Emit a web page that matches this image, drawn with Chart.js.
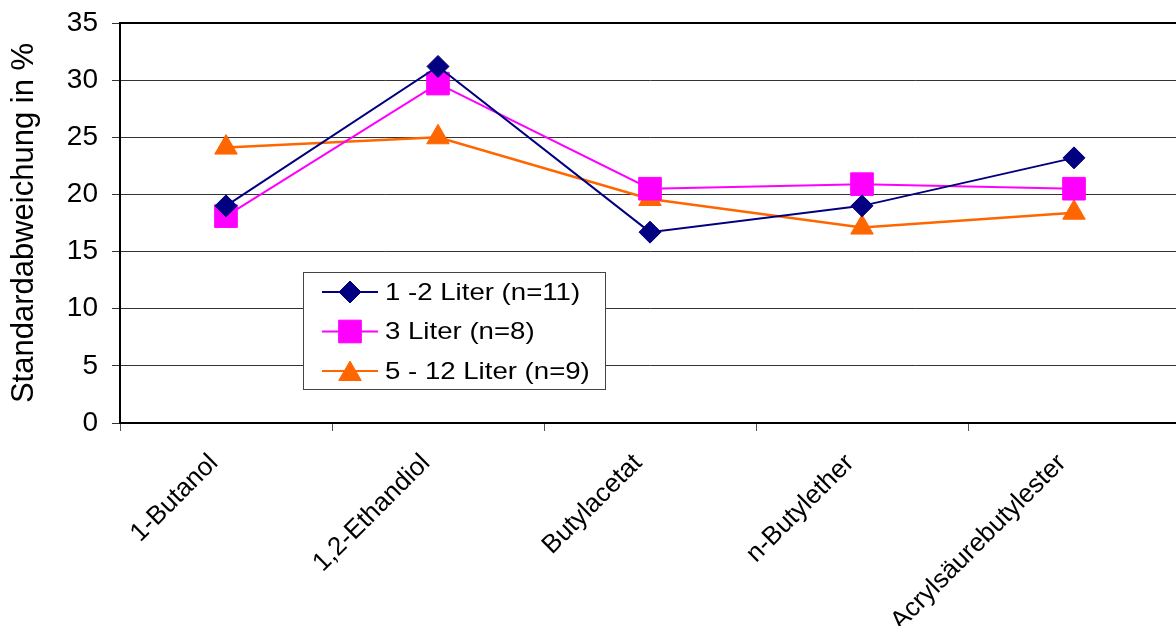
<!DOCTYPE html>
<html>
<head>
<meta charset="utf-8">
<script src="https://cdn.jsdelivr.net/npm/chart.js@4/dist/chart.umd.min.js"></script>
<style>
    html, body { margin: 0; padding: 0; background: #fff; overflow: hidden; }
</style>
</head>
<body>
<canvas id="chart-std" width="1197" height="626"></canvas>
<script>
// data
const categories = ['1-Butanol', '1,2-Ethandiol', 'Butylacetat', 'n-Butylether', 'Acrylsäurebutylester']
const seriesNames = ['1 -2 Liter (n=11)', '3 Liter (n=8)', '5 - 12 Liter (n=9)']
const small = [19.0, 31.2, 16.7, 19.0, 23.2]
const medium = [18.1, 29.7, 20.5, 20.9, 20.5]
const large = [24.1, 25.0, 19.6, 17.1, 18.4]
const yTicks = [0, 5, 10, 15, 20, 25, 30, 35]

const colors = ['#000080', '#FF00FF', '#FF6600']
const markers = ['rectRot', 'rect', 'triangle']
const radii = [11, 16, 13]

const font = 'Liberation Sans, Arial, sans-serif'

// legend drawn inside the plot, like the original
const boxLegend = {
    id: 'boxLegend',
    afterDraw(chart) {
        const ctx = chart.ctx
        const a = chart.chartArea
        ctx.save()
        // plot frame
        ctx.strokeStyle = '#000'
        ctx.lineWidth = 2
        ctx.strokeRect(a.left, a.top, a.right - a.left, a.bottom - a.top)

        const x0 = 303, y0 = 272, w = 302, h = 117
        ctx.fillStyle = '#fff'
        ctx.fillRect(x0, y0, w, h)
        ctx.strokeStyle = '#444'
        ctx.lineWidth = 1
        ctx.strokeRect(x0 + 0.5, y0 + 0.5, w, h)

        chart.data.datasets.forEach((ds, i) => {
            const y = y0 + 20 + i * 39.5
            ctx.strokeStyle = ds.borderColor
            ctx.lineWidth = 2
            ctx.beginPath()
            ctx.moveTo(x0 + 19, y)
            ctx.lineTo(x0 + 75, y)
            ctx.stroke()
            ctx.fillStyle = ds.backgroundColor
            ctx.strokeStyle = ds.borderColor
            ctx.lineWidth = 1
            Chart.helpers.drawPoint(ctx, {
                pointStyle: ds.pointStyle,
                radius: ds.pointRadius,
                borderWidth: 1,
                rotation: 0,
            }, x0 + 47, y + (ds.pointStyle === 'triangle' ? 3 : 0))
            // text is a bit wider than plain Arial in the original
            ctx.save()
            ctx.translate(x0 + 82, y + 1)
            ctx.scale(1.15, 1)
            ctx.fillStyle = '#000'
            ctx.font = '24px ' + font
            ctx.textBaseline = 'middle'
            ctx.textAlign = 'left'
            ctx.fillText(ds.label, 0, 0)
            ctx.restore()
        })
        ctx.restore()
    },
}

const datasets = [small, medium, large].map((values, i) => ({
    label: seriesNames[i],
    data: values,
    borderColor: colors[i],
    backgroundColor: colors[i],
    borderWidth: i === 2 ? 2.5 : 2,
    pointStyle: markers[i],
    pointRadius: radii[i],
    pointHoverRadius: radii[i],
    pointBorderWidth: 1,
    tension: 0,
}))

const ctx = document.getElementById('chart-std').getContext('2d')
const chartStd = new Chart(ctx, {
    type: 'line',
    data: {
        labels: categories,
        datasets: datasets,
    },
    options: {
        responsive: false,
        animation: false,
        layout: {
            padding: { top: 23, right: 4, left: 0, bottom: 0 },
        },
        plugins: {
            legend: { display: false },
            tooltip: { enabled: false },
        },
        scales: {
            x: {
                offset: true,
                grid: {
                    offset: true,
                    drawOnChartArea: false,
                    drawTicks: true,
                    tickLength: 8,
                    color: '#555',
                },
                border: { color: '#000', width: 2 },
                ticks: {
                    minRotation: 45,
                    maxRotation: 45,
                    padding: 17,
                    labelOffset: -12,
                    color: '#000',
                    font: { family: font, size: 26 },
                },
                afterFit(scale) {
                    scale.height = 203
                    scale.paddingLeft = 0
                    scale.paddingRight = 0
                },
            },
            y: {
                min: 0,
                max: 35,
                afterBuildTicks(scale) {
                    scale.ticks = yTicks.map(v => ({ value: v }))
                },
                grid: {
                    color: '#333',
                    lineWidth: 1,
                    tickLength: 8,
                },
                border: { color: '#000', width: 2 },
                ticks: {
                    padding: 14,
                    color: '#000',
                    font: { family: font, size: 28 },
                },
                title: {
                    display: true,
                    text: 'Standardabweichung in %',
                    color: '#000',
                    font: { family: font, size: 31 },
                    padding: { top: 6, bottom: 0 },
                },
                afterFit(scale) {
                    scale.width = 120
                    scale.paddingTop = 0
                    scale.paddingBottom = 0
                },
            },
        },
    },
    plugins: [boxLegend],
})
</script>
</body>
</html>
